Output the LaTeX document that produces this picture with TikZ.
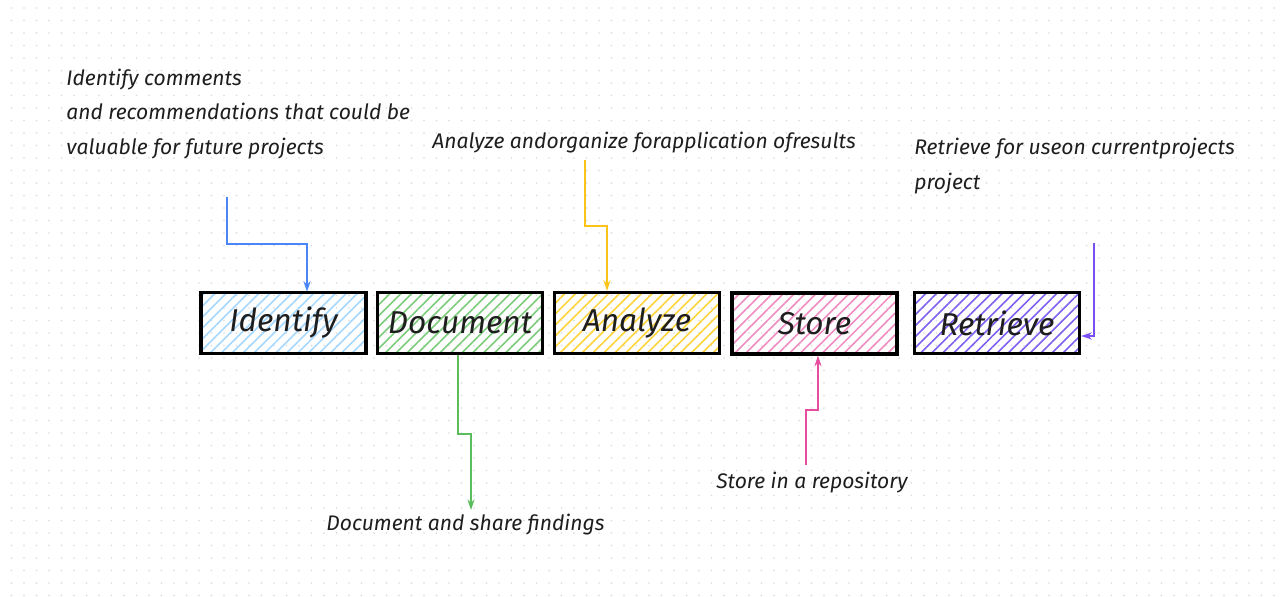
\documentclass[tikz,border=0pt]{standalone}
\usepackage{fontspec}
\setmainfont{Fira Sans}
\usepackage{xcolor}
\usetikzlibrary{arrows.meta,patterns.meta}

\definecolor{idfill}{HTML}{A5D8FF}
\definecolor{idline}{HTML}{4A86F7}
\definecolor{docfill}{HTML}{7CCC7C}
\definecolor{docline}{HTML}{5BBD5B}
\definecolor{anfill}{HTML}{FFD43B}
\definecolor{anline}{HTML}{FCC419}
\definecolor{stfill}{HTML}{F08CBF}
\definecolor{stline}{HTML}{E64D9E}
\definecolor{refill}{HTML}{8060F0}
\definecolor{reline}{HTML}{7950F2}
\definecolor{gridc}{HTML}{DADADA}
\definecolor{textc}{HTML}{1E1E1E}

\tikzset{
  stepbox/.style={draw=black, line width=1.9pt, minimum width=3.3cm, minimum height=1.22cm,
    inner sep=0pt, text=textc, font=\fontsize{18}{20}\selectfont\itshape},
  hatch/.style={pattern={Lines[angle=45,distance=4.4pt,line width=0.9pt]}, pattern color=#1},
  note/.style={text=textc, align=left, inner sep=0pt, font=\fontsize{12}{19.5}\selectfont\itshape},
  arr/.style={draw=#1, line width=0.9pt, -{Stealth[length=6pt,width=4pt]}}
}

\begin{document}
\begin{tikzpicture}[x=0.02cm, y=-0.02cm]
  \useasboundingbox (0,0) rectangle (1280,596);
  \fill[white] (0,0) rectangle (1280,596);

  % dotted grid
  \foreach \i in {0,...,101}
    \foreach \j in {0,...,47}
      \fill[gridc] (11.5+\i*12.5, 8+\j*12.5) circle (0.45pt);

  % steps
  \node[stepbox, hatch=idfill] (identify) at (283.5,323) {Identify};
  \node[stepbox, hatch=docfill] (document) at (460,323) {Document};
  \node[stepbox, hatch=anfill] (analyze) at (637,323) {Analyze};
  \node[stepbox, hatch=stfill] (store) at (814.5,323.5) {Store};
  \node[stepbox, hatch=refill] (retrieve) at (997,323) {Retrieve};

  % notes
  \node[note, anchor=west] (idnote) at (66,114) {Identify comments\\and recommendations that could be\\valuable for future projects};
  \node[note, anchor=west] (annote) at (432,143) {Analyze andorganize forapplication ofresults};
  \node[note, anchor=west] (renote) at (914,166) {Retrieve for useon currentprojects\\project};
  \node[note, anchor=west] (docnote) at (326,525) {Document and share findings};
  \node[note, anchor=west] (stnote) at (716,483) {Store in a repository};

  % connectors
  \coordinate (idfrom) at (227,197);
  \coordinate (anfrom) at (585,160);
  \coordinate (docto) at (471,510);
  \coordinate (stfrom) at (806,465);
  \coordinate (refrom) at (1094,243);

  \draw[arr=idline] (idfrom) -- ++(0,47) -| ([xshift=0.47cm]identify.north);
  \draw[arr=anline] (anfrom) -- ++(0,66) -| ([xshift=-0.6cm]analyze.north);
  \draw[arr=docline] ([xshift=-0.04cm]document.south) -- ++(0,79) -| (docto);
  \draw[arr=stline] (stfrom) -- ++(0,-55) -| ([xshift=0.07cm]store.south);
  \draw[arr=reline] (refrom) |- ([yshift=-0.26cm]retrieve.east);
\end{tikzpicture}
\end{document}
